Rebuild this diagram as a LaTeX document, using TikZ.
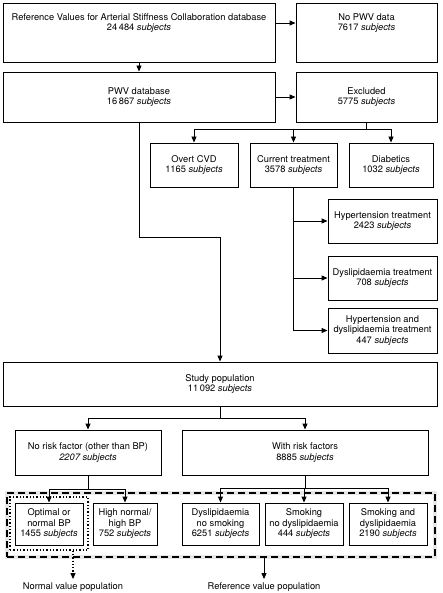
\documentclass[tikz,border=0pt]{standalone}
\usepackage{fontspec}
\setmainfont{TeX Gyre Heros}
\usetikzlibrary{arrows.meta}
\begin{document}
\begin{tikzpicture}[x=1pt,y=-1pt,
  every node/.style={font=\fontsize{9.3}{10.5}\selectfont},
  box/.style={draw, line width=0.9pt, inner sep=0pt, align=center},
  topbox/.style={draw, line width=0.9pt, inner sep=0pt},
  conn/.style={line width=0.9pt, line cap=rect},
  arr/.style={line width=0.9pt, -{Triangle[length=6pt,width=5pt]}},
  refgroup/.style={draw, line width=1.1pt, dash pattern=on 7pt off 4pt, inner sep=0pt,
    preaction={draw=black!9, line width=4pt, solid}},
  normgroup/.style={draw, line width=1.3pt, dash pattern=on 1.3pt off 2pt, inner sep=0pt},
  ]
\useasboundingbox (0,0) rectangle (442,593);

% groups
\node[refgroup, minimum width=428pt, minimum height=64pt] (refgrp) at (221,525) {};
\node[normgroup, minimum width=78pt, minimum height=53pt] (normgrp) at (49,523.5) {};

% top rows
\node[topbox] (top) at (139,32.5) {\parbox[c][59pt][t]{272pt}{\centering\rule{0pt}{17.5pt}Reference Values for Arterial Stiffness Collaboration database\\24\,484 \textit{subjects}}};
\node[topbox] (nopwv) at (366.5,32.5) {\parbox[c][59pt][t]{141pt}{\centering\rule{0pt}{17.5pt}No PWV data\\7617 \textit{subjects}}};
\node[box, minimum width=272pt, minimum height=50pt] (pwv) at (139,97) {PWV database\\16\,867 \textit{subjects}};
\node[box, minimum width=141pt, minimum height=50pt] (excl) at (366.5,97) {Excluded\\5775 \textit{subjects}};

% exclusions
\node[box, minimum width=88pt, minimum height=44pt] (overt) at (194,165) {Overt CVD\\1165 \textit{subjects}};
\node[box, minimum width=87pt, minimum height=44pt] (cur) at (293.5,165) {Current treatment\\3578 \textit{subjects}};
\node[box, minimum width=84pt, minimum height=44pt] (diab) at (391,165) {Diabetics\\1032 \textit{subjects}};
\node[box, minimum width=109pt, minimum height=44pt] (ht) at (382.5,221) {Hypertension treatment\\2423 \textit{subjects}};
\node[box, minimum width=109pt, minimum height=44pt] (dt) at (382.5,278) {Dyslipidaemia treatment\\708 \textit{subjects}};
\node[box, minimum width=109pt, minimum height=45pt] (hdt) at (382.5,330.5) {Hypertension and\\dyslipidaemia treatment\\447 \textit{subjects}};

% study
\node[box, minimum width=434pt, minimum height=44pt] (study) at (220,384) {Study population\\11\,092 \textit{subjects}};
\node[box, minimum width=146pt, minimum height=45pt] (norisk) at (88,452.5) {No risk factor (other than BP)\\\textit{2207 subjects}};
\node[box, minimum width=246pt, minimum height=45pt] (withrisk) at (305,452.5) {With risk factors\\8885 \textit{subjects}};

\node[box, minimum width=68pt, minimum height=42pt] (opt) at (49,524) {Optimal or\\normal BP\\1455 \textit{subjects}};
\node[box, minimum width=64pt, minimum height=42pt] (high) at (125,524) {High normal/\\high BP\\752 \textit{subjects}};
\node[box, minimum width=77pt, minimum height=42pt] (dns) at (220.5,524) {Dyslipidaemia\\no smoking\\6251 \textit{subjects}};
\node[box, minimum width=78pt, minimum height=42pt] (snd) at (304,524) {Smoking\\no dyslipidaemia\\444 \textit{subjects}};
\node[box, minimum width=78pt, minimum height=42pt] (sd) at (388,524) {Smoking and\\dyslipidaemia\\2190 \textit{subjects}};

\node (normlab) at (73,587) {Normal value population};
\node (reflab) at (264,587) {Reference value population};

% connectors
\draw[arr] (top.south) -- (pwv.north);
\draw[arr] ([yshift=9.5pt]top.east) -- ([yshift=9.5pt]nopwv.west);
\draw[arr] (pwv.east) -- (excl.west);

\draw[conn] (excl.south) -- ++(0,7) coordinate (exb);
\draw[conn] (overt.north |- exb) -- (diab.north |- exb);
\foreach \n in {overt,cur,diab} \draw[arr] (\n.north |- exb) -- (\n.north);

\draw[conn] (cur.south) -- (cur.south |- hdt.west);
\foreach \n in {ht,dt,hdt} \draw[arr] (cur.south |- \n.west) -- (\n.west);

\coordinate (bend) at (140,237);
\draw[arr] (pwv.south) -- (pwv.south |- bend) -| (study.north);

\draw[conn] (study.south) -- ++(0,12) coordinate (sb);
\draw[conn] (norisk.north |- sb) -- (withrisk.north |- sb);
\foreach \n in {norisk,withrisk} \draw[arr] (\n.north |- sb) -- (\n.north);

\draw[conn] (norisk.south) -- ++(0,14) coordinate (nb);
\draw[conn] (opt.north |- nb) -- (high.north |- nb);
\foreach \n in {opt,high} \draw[arr] (\n.north |- nb) -- (\n.north);

\draw[conn] (withrisk.south) -- ++(0,13) coordinate (wb);
\draw[conn] (dns.north |- wb) -- (sd.north |- wb);
\foreach \n in {dns,snd,sd} \draw[arr] (\n.north |- wb) -- (\n.north);

\draw[arr, dash pattern=on 1.3pt off 2pt, line width=1.2pt] (normgrp.south -| normlab.north) -- (normlab.north);
\draw[arr] (refgrp.south -| reflab.north) -- (reflab.north);
\end{tikzpicture}
\end{document}
